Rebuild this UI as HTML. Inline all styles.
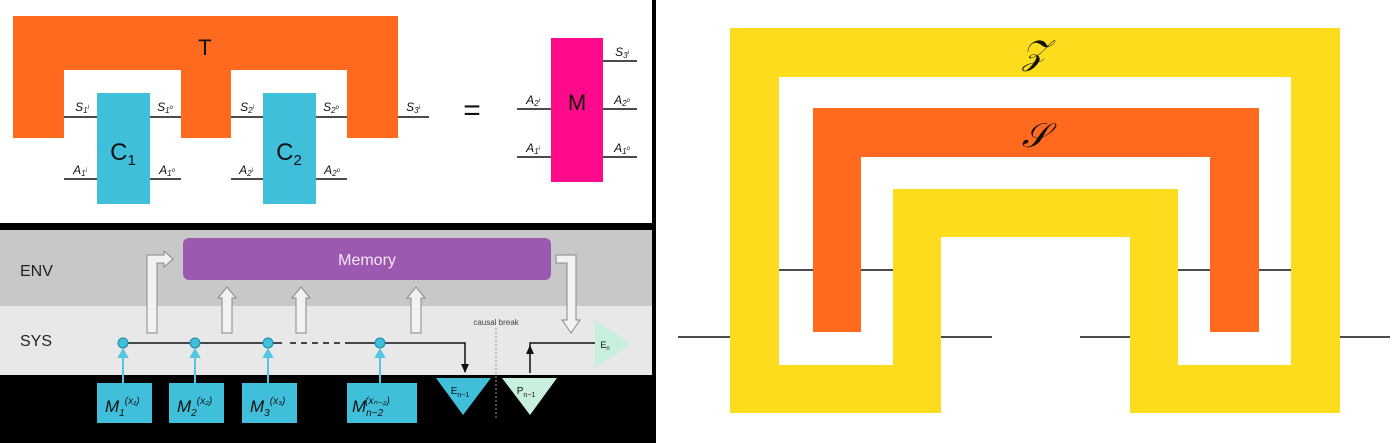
<!DOCTYPE html>
<html><head><meta charset="utf-8"><style>
html,body{margin:0;padding:0;background:#000;}
svg{display:block;}
text{font-family:"Liberation Sans",sans-serif;}
.m{font-family:"Liberation Serif",serif;font-style:italic;}
</style></head><body>
<svg width="1400" height="443" viewBox="0 0 1400 443">
<rect x="0" y="0" width="1400" height="443" fill="#000"/>
<g>
<rect x="0" y="0" width="652" height="223" fill="#fff"/>
<path d="M13,16H398V138H347V70H231V138H181V70H64V138H13Z" fill="#ff6a1f"/>
<text x="205" y="55" font-size="22" text-anchor="middle" fill="#111">T</text>
<g stroke="#111" stroke-width="1.5">
<line x1="64" y1="117" x2="97" y2="117"/><line x1="150" y1="117" x2="181" y2="117"/>
<line x1="231" y1="117" x2="263" y2="117"/><line x1="316" y1="117" x2="347" y2="117"/>
<line x1="398" y1="117" x2="429" y2="117"/>
<line x1="64" y1="179" x2="97" y2="179"/><line x1="150" y1="179" x2="181" y2="179"/>
<line x1="231" y1="179" x2="263" y2="179"/><line x1="316" y1="179" x2="347" y2="179"/>
<line x1="517" y1="109" x2="551" y2="109"/><line x1="603" y1="109" x2="637" y2="109"/>
<line x1="517" y1="157" x2="551" y2="157"/><line x1="603" y1="157" x2="637" y2="157"/>
<line x1="603" y1="61" x2="637" y2="61"/>
</g>
<rect x="97" y="93" width="53" height="111" fill="#3fbfda"/>
<rect x="263" y="93" width="53" height="111" fill="#3fbfda"/>
<text x="123" y="160" font-size="24" text-anchor="middle" fill="#111">C<tspan font-size="15" dy="5">1</tspan></text>
<text x="289" y="160" font-size="24" text-anchor="middle" fill="#111">C<tspan font-size="15" dy="5">2</tspan></text>
<g class="m" font-size="12" fill="#111" text-anchor="middle">
<text x="82" y="111">S<tspan font-size="8" dy="2">1</tspan><tspan font-size="6" dy="-4">i</tspan></text>
<text x="165" y="111">S<tspan font-size="8" dy="2">1</tspan><tspan font-size="6" dy="-4">o</tspan></text>
<text x="247" y="111">S<tspan font-size="8" dy="2">2</tspan><tspan font-size="6" dy="-4">i</tspan></text>
<text x="331" y="111">S<tspan font-size="8" dy="2">2</tspan><tspan font-size="6" dy="-4">o</tspan></text>
<text x="413" y="111">S<tspan font-size="8" dy="2">3</tspan><tspan font-size="6" dy="-4">i</tspan></text>
<text x="80" y="174">A<tspan font-size="8" dy="2">1</tspan><tspan font-size="6" dy="-4">i</tspan></text>
<text x="167" y="174">A<tspan font-size="8" dy="2">1</tspan><tspan font-size="6" dy="-4">o</tspan></text>
<text x="246" y="174">A<tspan font-size="8" dy="2">2</tspan><tspan font-size="6" dy="-4">i</tspan></text>
<text x="332" y="174">A<tspan font-size="8" dy="2">2</tspan><tspan font-size="6" dy="-4">o</tspan></text>
<text x="533" y="104">A<tspan font-size="8" dy="2">2</tspan><tspan font-size="6" dy="-4">i</tspan></text>
<text x="622" y="104">A<tspan font-size="8" dy="2">2</tspan><tspan font-size="6" dy="-4">o</tspan></text>
<text x="533" y="152">A<tspan font-size="8" dy="2">1</tspan><tspan font-size="6" dy="-4">i</tspan></text>
<text x="622" y="152">A<tspan font-size="8" dy="2">1</tspan><tspan font-size="6" dy="-4">o</tspan></text>
<text x="622" y="56">S<tspan font-size="8" dy="2">3</tspan><tspan font-size="6" dy="-4">i</tspan></text>
</g>
<text x="472" y="120" font-size="30" text-anchor="middle" fill="#111" font-family="Liberation Serif">=</text>
<rect x="551" y="38" width="52" height="144" fill="#ff0a8a"/>
<text x="577" y="110" font-size="22" text-anchor="middle" fill="#111">M</text>
</g>
<g>
<rect x="0" y="230" width="652" height="76" fill="#c8c8c8"/>
<rect x="0" y="306" width="652" height="69" fill="#e8e8e8"/>
<text x="20" y="276" font-size="16" fill="#222">ENV</text>
<text x="20" y="346" font-size="16" fill="#222">SYS</text>
<rect x="183" y="238" width="368" height="42" rx="6" fill="#9b59b0"/>
<text x="367" y="265" font-size="16" text-anchor="middle" fill="#f4e6f8">Memory</text>
<g fill="#f2f2f2" stroke="#888" stroke-width="1">
<path d="M222,333V298H218L227,287L236,298H232V333Z"/>
<path d="M296,333V298H292L301,287L310,298H306V333Z"/>
<path d="M411,333V298H407L416,287L425,298H421V333Z"/>
<path d="M147,333V255H164V251L173,259L164,267V263H157V333Z"/>
<path d="M556,255H576V320H580L571,333L562,320H567V263H556Z"/>
</g>
<g stroke="#111" stroke-width="1.5" fill="none">
<line x1="123" y1="343" x2="282" y2="343"/>
<line x1="290" y1="343" x2="345" y2="343" stroke-dasharray="6,5"/>
<polyline points="345,343 465,343 465,372"/>
<polyline points="530,373 530,343 595,343"/>
</g>
<path d="M461,364L465,373L469,364Z" fill="#111"/>
<path d="M526,354L530,345L534,354Z" fill="#111"/>
<line x1="496" y1="328" x2="496" y2="420" stroke="#999" stroke-dasharray="2,2"/>
<text x="496" y="325" font-size="8" text-anchor="middle" fill="#444">causal break</text>
<g fill="#3fbfda" stroke="#1c8aa0">
<circle cx="123" cy="343" r="5"/><circle cx="195" cy="343" r="5"/>
<circle cx="268" cy="343" r="5"/><circle cx="380" cy="343" r="5"/>
</g>
<g stroke="#55c6e0" stroke-width="2" fill="#55c6e0">
<line x1="123" y1="383" x2="123" y2="355"/><path d="M119,357L123,350L127,357Z"/>
<line x1="195" y1="383" x2="195" y2="355"/><path d="M191,357L195,350L199,357Z"/>
<line x1="268" y1="383" x2="268" y2="355"/><path d="M264,357L268,350L272,357Z"/>
<line x1="380" y1="383" x2="380" y2="355"/><path d="M376,357L380,350L384,357Z"/>
</g>
<g fill="#3fbfda">
<rect x="97" y="383" width="55" height="40"/><rect x="169" y="383" width="55" height="40"/>
<rect x="242" y="383" width="55" height="40"/><rect x="347" y="383" width="70" height="40"/>
</g>
<g class="m" font-size="17" fill="#111">
<text x="105" y="412">M<tspan font-size="10" dy="4">1</tspan><tspan font-size="10" dy="-12">(x₁)</tspan></text>
<text x="177" y="412">M<tspan font-size="10" dy="4">2</tspan><tspan font-size="10" dy="-12">(x₂)</tspan></text>
<text x="250" y="412">M<tspan font-size="10" dy="4">3</tspan><tspan font-size="10" dy="-12">(x₃)</tspan></text>
<text x="352" y="412">M<tspan font-size="10" dy="4">n−2</tspan><tspan font-size="10" dx="-18" dy="-12">(xₙ₋₂)</tspan></text>
</g>
<path d="M436,378H491L463,415Z" fill="#3fbfda"/>
<path d="M502,378H557L530,415Z" fill="#c8f0dc"/>
<path d="M595,320L631,344L595,368Z" fill="#c8f0dc"/>
<text x="460" y="394" font-size="10" text-anchor="middle" fill="#111">E<tspan font-size="7" dy="3">n−1</tspan></text>
<text x="526" y="394" font-size="10" text-anchor="middle" fill="#111">P<tspan font-size="7" dy="3">n−1</tspan></text>
<text x="605" y="348" font-size="9" text-anchor="middle" fill="#111">E<tspan font-size="6" dy="2">n</tspan></text>
</g>
<g>
<rect x="656" y="0" width="744" height="443" fill="#fff"/>
<g stroke="#111" stroke-width="1.5">
<line x1="779" y1="270" x2="893" y2="270"/><line x1="1178" y1="270" x2="1291" y2="270"/>
<line x1="678" y1="337" x2="730" y2="337"/><line x1="941" y1="337" x2="992" y2="337"/>
<line x1="1080" y1="337" x2="1130" y2="337"/><line x1="1340" y1="337" x2="1390" y2="337"/>
</g>
<path d="M730,28H1340V413H1130V237H941V413H730ZM779,77V365H893V189H1178V365H1291V77Z" fill="#fddc1e" fill-rule="evenodd"/>
<path d="M813,108H1259V332H1210V157H861V332H813Z" fill="#ff6a1f"/>
<text x="1035" y="64" font-size="34" class="m" text-anchor="middle" fill="#111">𝒵</text>
<text x="1035" y="147" font-size="34" class="m" text-anchor="middle" fill="#111">𝒮</text>
</g>
</svg>
</body></html>
